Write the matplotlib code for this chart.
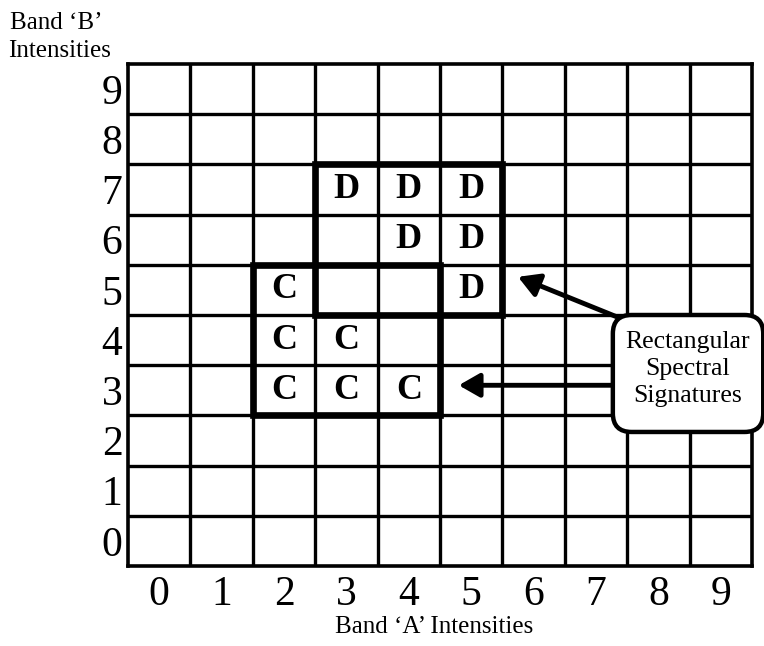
import matplotlib
matplotlib.use("Agg")
import matplotlib.pyplot as plt
from matplotlib.patches import Rectangle, FancyBboxPatch
import numpy as np

plt.rcParams['font.family'] = ['Liberation Serif', 'DejaVu Serif']

# grid of intensity levels
band_a_levels = list(range(10))
band_b_levels = list(range(10))

# class C and class D cells (band A, band B)
c_cells = [(2, 5), (2, 4), (3, 4), (2, 3), (3, 3), (4, 3)]
d_cells = [(3, 7), (4, 7), (5, 7), (4, 6), (5, 6), (5, 5)]

# rectangular signatures: (a_min, b_min, a_max, b_max)
c_rect = (2, 3, 4, 5)
d_rect = (3, 5, 5, 7)

fig = plt.figure(figsize=(7.64, 6.46), dpi=100)
ax = fig.add_axes([128 / 764, 80 / 646, 624 / 764, 502 / 646])
ax.set_xlim(0, 10)
ax.set_ylim(0, 10)

# grid lines
for v in range(1, 10):
    ax.axvline(v, color='black', lw=2.4, zorder=1)
    ax.axhline(v, color='black', lw=2.4, zorder=1)
for s in ax.spines.values():
    s.set_linewidth(2.6)

ax.set_xticks(np.array(band_a_levels) + 0.5)
ax.set_xticklabels([str(v) for v in band_a_levels])
ax.set_yticks(np.array(band_b_levels) + 0.5)
ax.set_yticklabels([str(v) for v in band_b_levels])
ax.tick_params(length=0, labelsize=30)
ax.tick_params(axis='x', pad=7)
ax.tick_params(axis='y', pad=4)

for a, b in c_cells:
    ax.text(a + 0.5, b + 0.5, 'C', ha='center', va='center',
            fontsize=26, fontweight='bold', zorder=4)
for a, b in d_cells:
    ax.text(a + 0.5, b + 0.5, 'D', ha='center', va='center',
            fontsize=26, fontweight='bold', zorder=4)

for x0, y0, x1, y1 in [c_rect, d_rect]:
    ax.add_patch(Rectangle((x0, y0), x1 - x0 + 1, y1 - y0 + 1, fill=False,
                           lw=4.8, ec='black', zorder=3, joinstyle='miter'))

# callout box
box = FancyBboxPatch((7.77, 2.67), 2.41, 2.33,
                     boxstyle='round,pad=0,rounding_size=0.3',
                     mutation_aspect=62.4 / 50.2,
                     fc='white', ec='black', lw=3.2, zorder=6, clip_on=False)
ax.add_patch(box)
ax.text(8.97, 3.93, 'Rectangular\nSpectral\nSignatures', ha='center', va='center',
        fontsize=18.5, linespacing=1.3, zorder=7, clip_on=False)

arrow_style = dict(arrowstyle='-|>,head_length=0.7,head_width=0.4',
                   mutation_scale=18, lw=3.5, color='black', shrinkA=0, shrinkB=0)
ax.annotate('', xy=(6.25, 5.76), xytext=(7.84, 4.96),
            arrowprops=arrow_style, zorder=5)
ax.annotate('', xy=(5.30, 3.6), xytext=(7.8, 3.6),
            arrowprops=arrow_style, zorder=5)

fig.text(434 / 764, 1 - 633 / 646, 'Band \u2018A\u2019 Intensities', ha='center',
         va='baseline', fontsize=18)
fig.text(10 / 764, 1 - 29 / 646, 'Band \u2018B\u2019', ha='left',
         va='baseline', fontsize=18)
fig.text(8 / 764, 1 - 57 / 646, 'Intensities', ha='left',
         va='baseline', fontsize=18)

fig.savefig('out.png', dpi=100)
